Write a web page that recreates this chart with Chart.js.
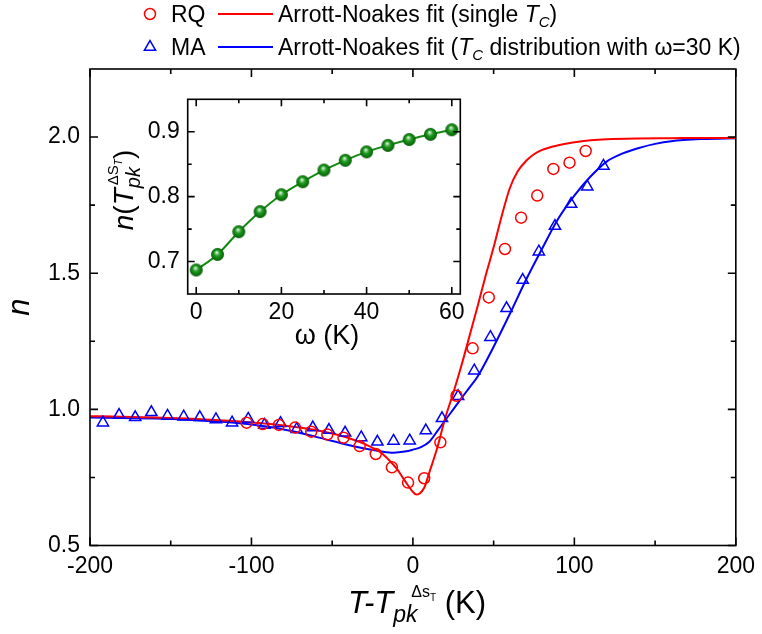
<!DOCTYPE html>
<html>
<head>
<meta charset="utf-8">
<title>Arrott-Noakes n(T)</title>
<script src="https://cdn.jsdelivr.net/npm/chart.js@4.4.1/dist/chart.umd.min.js"></script>
<style>
  html, body { margin: 0; padding: 0; background: #fff; }
  #wrap { position: relative; width: 762px; height: 634px; }
  #wrap canvas { position: absolute; left: 0; top: 0; }
</style>
</head>
<body>
<div id="wrap">
  <canvas id="mainChart" width="762" height="634"></canvas>
  <canvas id="insetChart" width="762" height="634"></canvas>
</div>
<script>
// ---- measured exponent n versus T - Tpk ----
const rqT = [-103, -93, -83, -73, -63, -53, -43, -33, -23, -13, -3, 7, 17, 27, 37, 47, 57, 67, 77, 87, 97, 107];
const rqN = [0.951, 0.946, 0.943, 0.933, 0.918, 0.908, 0.896, 0.865, 0.836, 0.787, 0.731, 0.747, 0.879, 1.050, 1.224, 1.411, 1.589, 1.704, 1.785, 1.883, 1.906, 1.949];

const maT = [-192, -182, -172, -162, -152, -142, -132, -122, -112, -102, -92, -82, -72, -62, -52, -42, -32, -22, -12, -2, 8, 18, 28, 38, 48, 58, 68, 78, 88, 98, 108, 118];
const maN = [0.951, 0.979, 0.971, 0.989, 0.976, 0.973, 0.971, 0.963, 0.951, 0.965, 0.943, 0.949, 0.927, 0.933, 0.924, 0.914, 0.897, 0.881, 0.884, 0.885, 0.922, 0.967, 1.048, 1.142, 1.265, 1.371, 1.475, 1.579, 1.673, 1.754, 1.818, 1.894];

// ---- Arrott-Noakes fits ----
const rqFitT = [-200, -180, -160, -140, -120, -100, -80, -60, -50, -40, -30, -20, -15, -10, -5, 0, 2, 4, 7, 10, 15, 20, 25, 30, 35, 40, 45, 50, 55, 60, 65, 70, 75, 80, 90, 100, 110, 120, 140, 160, 180, 200];
const rqFitN = [0.975, 0.973, 0.970, 0.966, 0.960, 0.952, 0.941, 0.924, 0.911, 0.895, 0.873, 0.842, 0.815, 0.782, 0.738, 0.697, 0.687, 0.690, 0.712, 0.765, 0.857, 0.968, 1.060, 1.160, 1.268, 1.377, 1.490, 1.595, 1.710, 1.812, 1.875, 1.912, 1.937, 1.953, 1.970, 1.981, 1.988, 1.992, 1.995, 1.996, 1.997, 1.997];

const maFitT = [-200, -180, -160, -140, -120, -100, -80, -60, -40, -30, -20, -12, -5, 0, 5, 10, 15, 20, 25, 30, 35, 40, 50, 60, 70, 80, 90, 100, 110, 120, 130, 140, 150, 160, 180, 200];
const maFitN = [0.970, 0.968, 0.966, 0.962, 0.955, 0.944, 0.926, 0.899, 0.869, 0.856, 0.846, 0.841, 0.845, 0.852, 0.861, 0.880, 0.919, 0.960, 1.000, 1.040, 1.080, 1.120, 1.230, 1.350, 1.475, 1.590, 1.700, 1.785, 1.855, 1.910, 1.940, 1.960, 1.975, 1.985, 1.993, 1.996];

// ---- inset: n at the peak versus distribution width omega ----
const omega = [0, 5, 10, 15, 20, 25, 30, 35, 40, 45, 50, 55, 60];
const nPeak = [0.687, 0.711, 0.746, 0.777, 0.803, 0.823, 0.841, 0.856, 0.869, 0.879, 0.888, 0.896, 0.903];

// axis tick settings
const mainXTicks = { min: -200, max: 200, step: 100 };
const mainYTicks = { min: 0.5, max: 2.25, step: 0.5 };
const insetXTicks = { min: -2, max: 62, labels: [0, 20, 40, 60] };
const insetYTicks = { min: 0.65, max: 0.95, labels: [0.7, 0.8, 0.9] };

const FONT = '"Liberation Sans", Arial, Helvetica, sans-serif';
const RED = '#ff0000', BLUE = '#0000ff', GREEN = '#128a12';

function pts(xs, ys) { return xs.map((v, i) => ({ x: v, y: ys[i] })); }

// ---- rich text helpers (italics, sub/superscripts) ----
function fontOf(s) { return (s.it ? 'italic ' : '') + s.size + 'px ' + FONT; }
function segWidth(ctx, s) {
  if (s.stack) return Math.max(...s.stack.map(r => (r.dx || 0) + runWidth(ctx, r.run)));
  ctx.font = fontOf(s);
  return ctx.measureText(s.t).width;
}
function runWidth(ctx, run) { return run.reduce((w, s) => w + segWidth(ctx, s), 0); }
function drawRun(ctx, run, x, y) {
  for (const s of run) {
    if (s.stack) {
      for (const r of s.stack) drawRun(ctx, r.run, x + (r.dx || 0), y);
      x += segWidth(ctx, s);
    } else {
      ctx.font = fontOf(s);
      ctx.fillText(s.t, x, y + (s.dy || 0));
      x += ctx.measureText(s.t).width;
    }
  }
  return x;
}

// frame with inward major/minor ticks on all four sides
function drawFrame(chart, o) {
  const { ctx, chartArea: a, scales: { x, y } } = chart;
  ctx.save();
  ctx.strokeStyle = '#000';
  ctx.lineWidth = o.lw;
  ctx.beginPath();
  const xt = x.ticks.map(t => t.value);
  const yt = y.ticks.map(t => t.value);
  const xs = [], ys = [];
  xt.forEach(v => xs.push([v, o.maj]));
  for (let i = 0; i < xt.length - 1; i++) xs.push([(xt[i] + xt[i + 1]) / 2, o.min]);
  yt.forEach(v => ys.push([v, o.maj]));
  for (let i = 0; i < yt.length - 1; i++) ys.push([(yt[i] + yt[i + 1]) / 2, o.min]);
  xs.forEach(([v, len]) => {
    const p = x.getPixelForValue(v);
    if (p < a.left - 0.5 || p > a.right + 0.5) return;
    ctx.moveTo(p, a.bottom); ctx.lineTo(p, a.bottom - len);
    ctx.moveTo(p, a.top); ctx.lineTo(p, a.top + len);
  });
  ys.forEach(([v, len]) => {
    const p = y.getPixelForValue(v);
    if (p < a.top - 0.5 || p > a.bottom + 0.5) return;
    ctx.moveTo(a.left, p); ctx.lineTo(a.left + len, p);
    ctx.moveTo(a.right, p); ctx.lineTo(a.right - len, p);
  });
  ctx.stroke();
  ctx.strokeRect(a.left, a.top, a.right - a.left, a.bottom - a.top);
  ctx.restore();
}

// open marker outline for the legend
function legendMarker(ctx, sym, cx, cy) {
  ctx.beginPath();
  if (sym === 'circle') {
    ctx.arc(cx, cy, 5.5, 0, Math.PI * 2);
  } else {
    const r = 6.5;
    ctx.moveTo(cx, cy - r);
    ctx.lineTo(cx + r * Math.sin(2 * Math.PI / 3), cy - r * Math.cos(2 * Math.PI / 3));
    ctx.lineTo(cx + r * Math.sin(4 * Math.PI / 3), cy - r * Math.cos(4 * Math.PI / 3));
    ctx.closePath();
  }
  ctx.stroke();
}

// ---- main chart decorations: frame, axis titles, legend ----
const mainDecor = {
  id: 'mainDecor',
  afterDraw(chart) {
    const { ctx, chartArea: a } = chart;
    drawFrame(chart, { lw: 1.6, maj: 8, min: 5 });
    ctx.save();
    ctx.fillStyle = '#000';
    ctx.textBaseline = 'alphabetic';
    ctx.textAlign = 'left';

    // x title: T - T_pk^{ΔS_T} (K)
    const xRun = [
      { t: 'T-T', size: 31, it: true },
      { stack: [
        { run: [{ t: 'pk', size: 23, it: true, dy: 9 }] },
        { dx: 18, run: [{ t: 'Δs', size: 16, dy: -16 }, { t: 'T', size: 10, dy: -12 }] }
      ] },
      { t: ' (K)', size: 31 }
    ];
    const xw = runWidth(ctx, xRun);
    drawRun(ctx, xRun, 417 - xw / 2, 613);

    // y title: n
    ctx.save();
    ctx.translate(29, (a.top + a.bottom) / 2);
    ctx.rotate(-Math.PI / 2);
    ctx.textAlign = 'center';
    ctx.font = 'italic 31px ' + FONT;
    ctx.fillText('n', 0, 0);
    ctx.restore();

    // legend
    const rows = [
      { y: 22, color: RED, sym: 'circle', name: 'RQ',
        run: [{ t: 'Arrott-Noakes fit (single ', size: 23 }, { t: 'T', size: 23, it: true },
              { t: 'C', size: 15, it: true, dy: 5 }, { t: ')', size: 23 }] },
      { y: 55, color: BLUE, sym: 'triangle', name: 'MA',
        run: [{ t: 'Arrott-Noakes fit (', size: 23 }, { t: 'T', size: 23, it: true },
              { t: 'C', size: 15, it: true, dy: 5 }, { t: ' distribution with ω=30 K)', size: 23 }] }
    ];
    const symX = 150, nameX = 171, lineX0 = 218, lineX1 = 273, textX = 278;
    rows.forEach(r => {
      const cy = r.y - 8;
      ctx.strokeStyle = r.color;
      ctx.lineWidth = 1.5;
      legendMarker(ctx, r.sym, symX, cy);
      ctx.beginPath();
      ctx.lineWidth = 2;
      ctx.moveTo(lineX0, cy); ctx.lineTo(lineX1, cy);
      ctx.stroke();
      ctx.fillStyle = '#000';
      ctx.font = '23px ' + FONT;
      ctx.fillText(r.name, nameX, r.y);
      drawRun(ctx, r.run, textX, r.y);
    });
    ctx.restore();
  }
};

const mainChart = new Chart(document.getElementById('mainChart'), {
  type: 'scatter',
  data: {
    datasets: [
      { label: 'RQ', data: pts(rqT, rqN), showLine: false, pointStyle: 'circle', pointRadius: 5.5,
        pointBorderWidth: 1.5, borderColor: RED, backgroundColor: 'rgba(0,0,0,0)' },
      { label: 'MA', data: pts(maT, maN), showLine: false, pointStyle: 'triangle', pointRadius: 6.5,
        pointBorderWidth: 1.5, borderColor: BLUE, backgroundColor: 'rgba(0,0,0,0)' },
      { label: 'Arrott-Noakes fit (single Tc)', data: pts(rqFitT, rqFitN), showLine: true, pointRadius: 0,
        borderColor: RED, borderWidth: 2, cubicInterpolationMode: 'monotone' },
      { label: 'Arrott-Noakes fit (Tc distribution)', data: pts(maFitT, maFitN), showLine: true, pointRadius: 0,
        borderColor: BLUE, borderWidth: 2, cubicInterpolationMode: 'monotone' }
    ]
  },
  options: {
    responsive: false,
    animation: false,
    events: [],
    layout: { padding: { left: 0, top: 69, right: 22, bottom: 0 } },
    plugins: { legend: { display: false }, tooltip: { enabled: false } },
    scales: {
      x: {
        type: 'linear', min: mainXTicks.min, max: mainXTicks.max,
        grid: { display: false, drawTicks: false }, border: { display: false },
        ticks: { stepSize: mainXTicks.step, includeBounds: false, color: '#000', padding: 7,
                 font: { family: FONT, size: 23 }, maxRotation: 0 },
        afterFit(s) { s.height = 88.5; }
      },
      y: {
        type: 'linear', min: mainYTicks.min, max: mainYTicks.max,
        grid: { display: false, drawTicks: false }, border: { display: false },
        ticks: { stepSize: mainYTicks.step, includeBounds: false, color: '#000', padding: 10,
                 font: { family: FONT, size: 23 }, callback: v => v.toFixed(1) },
        afterFit(s) { s.width = 90; }
      }
    }
  },
  plugins: [mainDecor]
});

// ---- inset: shaded green sphere markers ----
function makeBall(r) {
  const c = document.createElement('canvas');
  c.width = c.height = 2 * r + 2;
  const g = c.getContext('2d');
  const cx = r + 1, cy = r + 1;
  const grad = g.createRadialGradient(cx - r * 0.15, cy - r * 0.35, 0, cx, cy, r);
  grad.addColorStop(0, '#f4fff4');
  grad.addColorStop(0.18, '#9ad89a');
  grad.addColorStop(0.45, '#1f9a1f');
  grad.addColorStop(0.85, '#0b700b');
  grad.addColorStop(1, '#055205');
  g.fillStyle = grad;
  g.beginPath(); g.arc(cx, cy, r, 0, Math.PI * 2); g.fill();
  return c;
}

const insetDecor = {
  id: 'insetDecor',
  beforeDraw(chart) {
    const { ctx, chartArea: a } = chart;
    ctx.save();
    ctx.fillStyle = '#fff';
    ctx.fillRect(a.left, a.top, a.right - a.left, a.bottom - a.top);
    ctx.restore();
  },
  afterDraw(chart) {
    const { ctx, chartArea: a } = chart;
    drawFrame(chart, { lw: 1.6, maj: 7, min: 4 });
    ctx.save();
    ctx.fillStyle = '#000';
    ctx.textBaseline = 'alphabetic';
    ctx.textAlign = 'left';
    // x title
    const xr = [{ t: 'ω (K)', size: 27 }];
    const w = runWidth(ctx, xr);
    drawRun(ctx, xr, 327 - w / 2, 344);
    // y title: n(T_pk^{ΔS_T})
    const yr = [
      { t: 'n', size: 28, it: true }, { t: '(', size: 28 }, { t: 'T', size: 28, it: true },
      { stack: [
        { run: [{ t: 'pk', size: 20, it: true, dy: 7 }] },
        { dx: 3, run: [{ t: 'ΔS', size: 15, dy: -15 }, { t: 'T', size: 10, it: true, dy: -11 }] }
      ] },
      { t: ')', size: 28 }
    ];
    const yw = runWidth(ctx, yr);
    ctx.translate(133, 190);
    ctx.rotate(-Math.PI / 2);
    drawRun(ctx, yr, -yw / 2, 0);
    ctx.restore();
  }
};

const insetChart = new Chart(document.getElementById('insetChart'), {
  type: 'scatter',
  data: {
    datasets: [
      { label: 'n(Tpk)', data: pts(omega, nPeak), showLine: true, borderColor: GREEN, borderWidth: 2,
        pointStyle: makeBall(6.5), pointRadius: 6.5, cubicInterpolationMode: 'monotone' }
    ]
  },
  options: {
    responsive: false,
    animation: false,
    events: [],
    layout: { padding: { left: 0, top: 99.3, right: 301.7, bottom: 0 } },
    plugins: { legend: { display: false }, tooltip: { enabled: false } },
    scales: {
      x: {
        type: 'linear', min: insetXTicks.min, max: insetXTicks.max,
        grid: { display: false, drawTicks: false }, border: { display: false },
        afterBuildTicks(s) { s.ticks = insetXTicks.labels.map(v => ({ value: v })); },
        ticks: { color: '#000', padding: 5, font: { family: FONT, size: 23 }, maxRotation: 0 },
        afterFit(s) { s.height = 340; }
      },
      y: {
        type: 'linear', min: insetYTicks.min, max: insetYTicks.max,
        grid: { display: false, drawTicks: false }, border: { display: false },
        afterBuildTicks(s) { s.ticks = insetYTicks.labels.map(v => ({ value: v })); },
        ticks: { color: '#000', padding: 8, font: { family: FONT, size: 23 }, callback: v => v.toFixed(1) },
        afterFit(s) { s.width = 187.7; }
      }
    }
  },
  plugins: [insetDecor]
});
</script>
</body>
</html>
